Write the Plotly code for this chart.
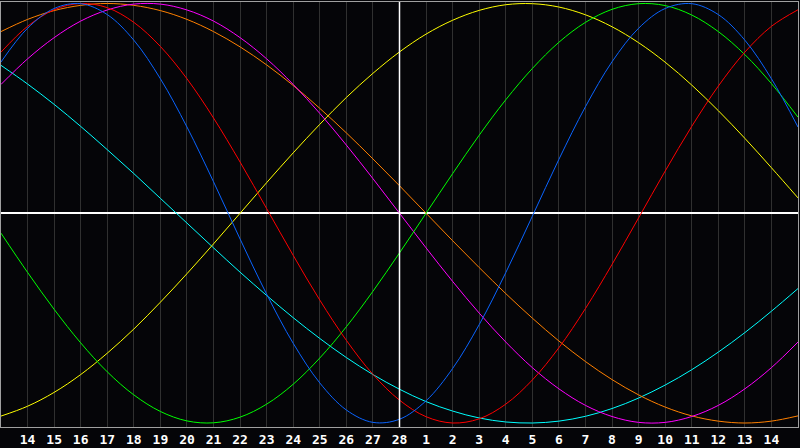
import plotly.graph_objects as go

# day index 0..30 on the x axis, day 28 (index 15) is the marked "today"
days = list(range(31))
day_labels = ['14', '15', '16', '17', '18', '19', '20', '21', '22', '23', '24', '25', '26', '27', '28',
              '1', '2', '3', '4', '5', '6', '7', '8', '9', '10', '11', '12', '13', '14']
label_pos = list(range(1, 30))
today = 15

# values, one per day
physical = [0.721, 0.882, 0.976, 0.999, 0.947, 0.825, 0.641, 0.411, 0.150, -0.123, -0.386, -0.620, -0.809, -0.938, -0.997, -0.982,
            -0.894, -0.740, -0.531, -0.283, -0.014, 0.257, 0.508, 0.722, 0.882, 0.976, 0.999, 0.947, 0.825, 0.641, 0.411]
emotional = [0.768, 0.891, 0.970, 1.000, 0.980, 0.910, 0.795, 0.641, 0.454, 0.244, 0.022, -0.201, -0.414, -0.606, -0.768, -0.891,
             -0.970, -1.000, -0.980, -0.910, -0.795, -0.641, -0.454, -0.244, -0.022, 0.201, 0.414, 0.606, 0.768, 0.891, 0.970]
intellectual = [-0.095, -0.282, -0.458, -0.618, -0.756, -0.866, -0.945, -0.990, -0.999, -0.972, -0.910, -0.815, -0.690, -0.541, -0.372, -0.189,
                0.000, 0.189, 0.372, 0.541, 0.690, 0.815, 0.910, 0.972, 0.999, 0.990, 0.945, 0.866, 0.756, 0.618, 0.458]
intuitive = [0.614, 0.736, 0.837, 0.916, 0.969, 0.997, 0.997, 0.969, 0.916, 0.837, 0.736, 0.614, 0.476, 0.325, 0.165, 0.000,
             -0.165, -0.325, -0.476, -0.614, -0.736, -0.837, -0.916, -0.969, -0.997, -0.997, -0.969, -0.916, -0.837, -0.736, -0.614]
aesthetic = [-0.967, -0.920, -0.854, -0.769, -0.667, -0.552, -0.424, -0.288, -0.146, 0.000, 0.146, 0.288, 0.424, 0.552, 0.667, 0.769,
             0.854, 0.920, 0.967, 0.994, 0.999, 0.983, 0.946, 0.889, 0.813, 0.720, 0.611, 0.489, 0.357, 0.217, 0.073]
awareness = [0.866, 0.924, 0.966, 0.991, 1.000, 0.991, 0.966, 0.924, 0.866, 0.793, 0.707, 0.609, 0.500, 0.383, 0.259, 0.131,
             0.000, -0.131, -0.259, -0.383, -0.500, -0.609, -0.707, -0.793, -0.866, -0.924, -0.966, -0.991, -1.000, -0.991, -0.966]
spiritual = [0.705, 0.616, 0.519, 0.414, 0.303, 0.189, 0.071, -0.047, -0.165, -0.281, -0.392, -0.498, -0.597, -0.688, -0.769, -0.839,
             -0.898, -0.943, -0.976, -0.995, -1.000, -0.991, -0.968, -0.931, -0.881, -0.819, -0.746, -0.662, -0.569, -0.467, -0.359]

series = [
    ('Spiritual', spiritual, '#00ffff'),
    ('Awareness', awareness, '#ff8000'),
    ('Aesthetic', aesthetic, '#ffff00'),
    ('Intuitive', intuitive, '#ff00ff'),
    ('Intellectual', intellectual, '#00ff00'),
    ('Emotional', emotional, '#ff0000'),
    ('Physical', physical, '#0a64ff'),
]

fig = go.Figure()
for name, vals, color in series:
    fig.add_trace(go.Scatter(x=days, y=vals, name=name, mode='lines',
                             line=dict(color=color, width=1, shape='spline', smoothing=1.0)))

fig.add_vline(x=today, line=dict(color='white', width=1.5))

fig.update_layout(
    width=800, height=448,
    margin=dict(l=1, r=1, t=1, b=20),
    paper_bgcolor='#050508',
    plot_bgcolor='#050508',
    showlegend=False,
    xaxis=dict(range=[0, 30], tickvals=label_pos, ticktext=day_labels,
               showgrid=True, gridcolor='#303030', gridwidth=1,
               showline=True, linecolor='#a0a0a0', linewidth=1, mirror=True,
               ticks='', zeroline=False,
               tickfont=dict(family='DejaVu Sans Mono', size=13, color='white', weight='bold')),
    yaxis=dict(range=[-1.019, 1.007], showgrid=False, showticklabels=False,
               zeroline=True, zerolinecolor='white', zerolinewidth=1.5,
               showline=True, linecolor='#a0a0a0', linewidth=1, mirror=True),
)

# the page has a default 8px body margin; drop it so the chart fills the window
fig.write_html("out.html", config={'displayModeBar': False},
               post_script="document.body.style.margin='0';")
